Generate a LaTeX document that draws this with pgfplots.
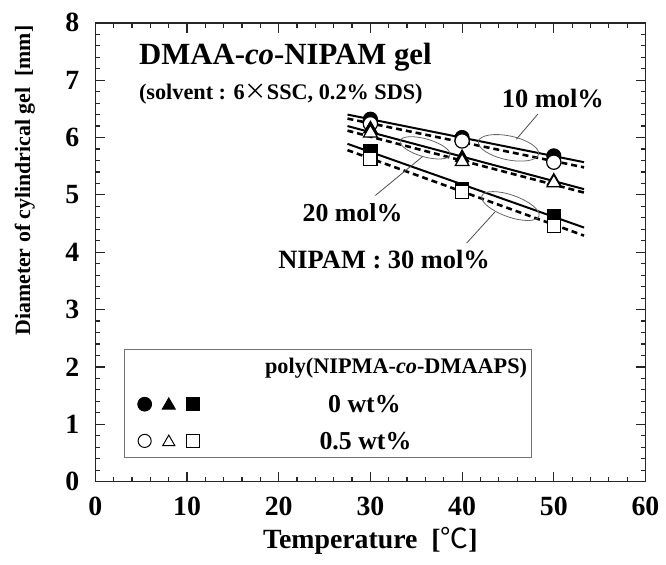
\documentclass[border=0pt]{standalone}
\usepackage{fontspec}
\setmainfont{Liberation Serif}
\newfontfamily\cjk{Noto Sans CJK JP}
\usepackage{pgfplots}
\pgfplotsset{compat=1.18}
\usetikzlibrary{shapes.geometric}
\newcommand{\fs}[1]{\fontsize{#1}{#1}\selectfont\bfseries}
\begin{document}
\begin{tikzpicture}
\begin{axis}[name=ax,
  scale only axis, width=277pt, height=231pt,
  xmin=0, xmax=60, ymin=0, ymax=8,
  xtick={0,10,...,60}, ytick={0,1,...,8},
  minor x tick num=4, minor y tick num=4,
  tick align=inside, tick pos=both,
  major tick length=5pt, minor tick length=2.5pt,
  axis line style={black!85, line width=0.8pt},
  every tick/.style={black!85, line width=0.6pt},
  /pgf/number format/assume math mode=true,
  ticklabel style={font=\fs{14}},
  xticklabel style={yshift=-4pt},
  yticklabel style={xshift=-4.5pt},
  xlabel={Temperature\ \ [{\cjk\mdseries ℃}]},
  xlabel style={font=\fs{14}, at={(axis description cs:0.5,-0.13)}, anchor=center},
  ylabel={Diameter of cylindrical gel\ \ [mm]},
  ylabel style={font=\fs{11}, at={(axis description cs:-0.128,0.656)}, anchor=center},
  clip=false,
]
% fitted lines
\addplot[black, line width=1pt] coordinates {(27.5,6.40) (53.3,5.57)};
\addplot[black, line width=1.3pt, dash pattern=on 3pt off 2pt] coordinates {(27.5,6.33) (53.3,5.48)};
\addplot[black, line width=1pt] coordinates {(27.5,6.20) (53.3,5.10)};
\addplot[black, line width=1.3pt, dash pattern=on 3pt off 2pt] coordinates {(27.5,6.12) (53.3,5.04)};
\addplot[black, line width=1pt] coordinates {(27.5,5.89) (53.3,4.43)};
\addplot[black, line width=1.3pt, dash pattern=on 3pt off 2pt] coordinates {(27.5,5.78) (53.3,4.29)};
% 10 mol%
\addplot[only marks, mark=*, mark size=3.6pt, black] coordinates {(30,6.32) (40,6.00) (50,5.68)};
\addplot[only marks, mark=*, mark size=3.6pt, mark options={draw=black, fill=white, line width=0.6pt}] coordinates {(30,6.24) (40,5.94) (50,5.57)};
% 20 mol%
\addplot[only marks, mark=triangle*, mark size=4pt, black] coordinates {(30,6.15) (40,5.65) (50,5.24)};
\addplot[only marks, mark=triangle*, mark size=4pt, mark options={draw=black, fill=white, line width=0.6pt}] coordinates {(30,6.08) (40,5.58) (50,5.21)};
% 30 mol%
\addplot[only marks, mark=square*, mark size=3.3pt, black] coordinates {(30,5.76) (40,5.11) (50,4.64)};
\addplot[only marks, mark=square*, mark size=3.3pt, mark options={draw=black, fill=white, line width=0.6pt}] coordinates {(30,5.62) (40,5.05) (50,4.46)};
% ellipses and leaders
\node[draw=black!60, line width=0.4pt, ellipse, minimum width=31pt, minimum height=12pt, inner sep=0pt, rotate=-12] at (axis cs:45.06,5.82) {};
\node[draw=black!60, line width=0.4pt, ellipse, minimum width=26pt, minimum height=9pt, inner sep=0pt, rotate=-16] at (axis cs:35.96,5.82) {};
\node[draw=black!60, line width=0.4pt, ellipse, minimum width=30.5pt, minimum height=11pt, inner sep=0pt, rotate=-19.6] at (axis cs:45.27,4.805) {};
\draw[black!70, line width=0.4pt] (axis cs:48.27,6.41) -- (axis cs:45.92,5.97);
\draw[black!70, line width=0.4pt] (axis cs:35.7,5.67) -- (axis cs:30.54,4.99);
\draw[black!70, line width=0.4pt] (axis cs:43.57,4.70) -- (axis cs:40.5,4.16);
\node[anchor=base, font=\fs{13.3}] at (axis cs:49.9,6.53) {10 mol\%};
\node[anchor=base, font=\fs{13}] at (axis cs:28.05,4.54) {20 mol\%};
\node[anchor=base east, font=\fs{13.3}] at (axis cs:43.8,3.71) {NIPAM : 30 mol\%};
% titles
\node[anchor=base west, font=\fs{15.5}] at (axis cs:4.0,7.27) {DMAA-\textit{co}-NIPAM gel};
\node[anchor=base west, font=\fs{11.2}] at (axis cs:4.0,6.67) {(solvent : 6{\cjk\mdseries ×}SSC, 0.2\% SDS)};
% legend box
\draw[black!55, line width=0.6pt] (axis cs:3.2,0.42) rectangle (axis cs:47.56,2.30);
\node[font=\fs{11.2}] at (axis cs:32.8,1.98) {poly(NIPMA-\textit{co}-DMAAPS)};
\node[font=\fs{13}] at (axis cs:29.35,1.35) {0 wt\%};
\node[font=\fs{13}] at (axis cs:29.46,0.71) {0.5 wt\%};
\addplot[only marks, mark=*, mark size=3.5pt, black] coordinates {(5.38,1.35)};
\addplot[only marks, mark=triangle*, mark size=3.8pt, black] coordinates {(8.01,1.33)};
\addplot[only marks, mark=square*, mark size=3.3pt, black] coordinates {(10.65,1.35)};
\addplot[only marks, mark=*, mark size=3.3pt, mark options={draw=black, fill=white, line width=0.5pt}] coordinates {(5.38,0.71)};
\addplot[only marks, mark=triangle*, mark size=3.5pt, mark options={draw=black, fill=white, line width=0.5pt}] coordinates {(8.01,0.69)};
\addplot[only marks, mark=square*, mark size=3.1pt, mark options={draw=black, fill=white, line width=0.5pt}] coordinates {(10.65,0.71)};
\end{axis}
\path ([shift={(-48pt,-41.5pt)}]ax.south west) rectangle ([shift={(8pt,11.5pt)}]ax.north east);
\end{tikzpicture}
\end{document}
